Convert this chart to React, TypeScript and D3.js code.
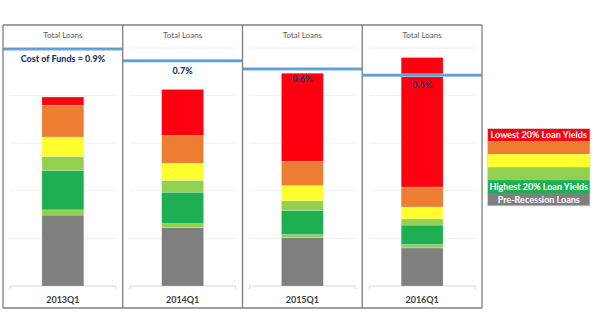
import React from "react";
import * as d3 from "d3";

const categories = ["2013Q1", "2014Q1", "2015Q1", "2016Q1"];
const preRecession = [1.49, 1.23, 1.02, 0.8];
const thinBand = [0.11, 0.08, 0.06, 0.07];
const highest20 = [0.83, 0.66, 0.51, 0.41];
const fourth20 = [0.29, 0.25, 0.2, 0.13];
const middle20 = [0.41, 0.36, 0.32, 0.25];
const second20 = [0.67, 0.58, 0.51, 0.42];
const lowest20 = [0.17, 0.97, 1.85, 2.72];
const costOfFundsLevel = [4.98, 4.73, 4.56, 4.43];
const costOfFundsLabels = ["Cost of Funds = 0.9%", "0.7%", "0.6%", "0.5%"];
const panelTitle = "Total Loans";
const yTicks = [0, 1, 2, 3, 4, 5];

const seriesKeys = ["pre", "thin", "high", "fourth", "middle", "second", "low"];
const seriesColors: Record<string, string> = {
  pre: "#7F7F7F",
  thin: "#92D050",
  high: "#1DAF52",
  fourth: "#92D050",
  middle: "#FFFF2E",
  second: "#ED7D31",
  low: "#FF0010",
};
const legendLabels = ["Lowest 20% Loan Yields", "", "", "", "Highest 20% Loan Yields", "Pre-Recession Loans"];
const legendColors = ["#FF0010", "#ED7D31", "#FFFF2E", "#92D050", "#1DAF52", "#7F7F7F"];

const rows = categories.map((c, i) => ({
  cat: c,
  pre: preRecession[i],
  thin: thinBand[i],
  high: highest20[i],
  fourth: fourth20[i],
  middle: middle20[i],
  second: second20[i],
  low: lowest20[i],
}));

export default function App() {
  const W = 600, H = 333;
  const x = d3.scaleBand<string>().domain(categories).range([3, 482]).paddingInner(0).paddingOuter(0);
  const y = d3.scaleLinear().domain([0, 5]).range([286, 48]);
  const stack = d3.stack<any>().keys(seriesKeys);
  const stacked = stack(rows as any);
  const bw = x.bandwidth();
  const barW = bw * 0.35;
  const top = 25, bottom = 308;
  const font = "Lato, 'Open Sans', sans-serif";

  const legendX = 487.5, legendW = 102.5, legendTop = 128.5, rowH = 12.9;

  return (
    <svg width={W} height={H} style={{ position: "absolute", left: 0, top: 0 }}>
      <rect x={0} y={0} width={W} height={H} fill="#fff" />
      {categories.map((c, i) => {
        const x0 = x(c)!;
        return (
          <g key={c}>
            {yTicks.map((t) => (
              <line key={t} x1={x0 + 7} x2={x0 + bw - 7} y1={y(t)} y2={y(t)}
                stroke={t === 0 ? "#D9D9D9" : "#F0F0F0"} strokeWidth={1} />
            ))}
            <line x1={x0 + 7} x2={x0 + 7} y1={y(0)} y2={y(0) + 3} stroke="#D9D9D9" />
            <line x1={x0 + bw - 7} x2={x0 + bw - 7} y1={y(0)} y2={y(0) + 3} stroke="#D9D9D9" />
            <text x={x0 + bw / 2} y={38} textAnchor="middle" fontFamily={font} fontSize={8} fill="#595959">{panelTitle}</text>
            <text x={x0 + bw / 2} y={302.5} textAnchor="middle" fontFamily={font} fontSize={9} fontWeight="bold" fill="#404040">{c}</text>
          </g>
        );
      })}
      {stacked.map((s) => (
        <g key={s.key}>
          {s.map((d, i) => {
            const cx = x(categories[i])! + bw / 2;
            return (
              <rect key={i} x={cx - barW / 2} y={y(d[1])} width={barW} height={y(d[0]) - y(d[1])}
                fill={seriesColors[s.key]} stroke="#ffffff" strokeOpacity={0.35} strokeWidth={0.6} />
            );
          })}
        </g>
      ))}
      {categories.map((c, i) => {
        const x0 = x(c)!;
        const ly = y(costOfFundsLevel[i]);
        return (
          <g key={"cof" + c}>
            <line x1={x0} x2={x0 + bw} y1={ly} y2={ly} stroke="#9DC3E6" strokeWidth={3.5} />
            <line x1={x0} x2={x0 + bw} y1={ly} y2={ly} stroke="#5B9BD5" strokeWidth={1.8} />
            <text x={x0 + bw / 2} y={ly + 13} textAnchor="middle" fontFamily={font} fontSize={9} fontWeight={900} fill="#1F3864">{costOfFundsLabels[i]}</text>
          </g>
        );
      })}
      {categories.map((c, i) => (
        <line key={"div" + i} x1={x(c)!} x2={x(c)!} y1={top} y2={bottom} stroke="#7F7F7F" strokeWidth={1.3} />
      ))}
      <line x1={482} x2={482} y1={top} y2={bottom} stroke="#7F7F7F" strokeWidth={1.3} />
      <line x1={3} x2={482} y1={top} y2={top} stroke="#7F7F7F" strokeWidth={1.3} />
      <line x1={3} x2={482} y1={bottom} y2={bottom} stroke="#7F7F7F" strokeWidth={1.3} />
      <g>
        {legendColors.map((col, i) => (
          <g key={"lg" + i}>
            <rect x={legendX} y={legendTop + i * rowH} width={legendW} height={rowH} fill={col} />
            {legendLabels[i] && (
              <text x={legendX + legendW / 2} y={legendTop + i * rowH + rowH / 2 + 3.2} textAnchor="middle"
                fontFamily={font} fontSize={9} fontWeight="bold" fill="#ffffff">{legendLabels[i]}</text>
            )}
          </g>
        ))}
        <rect x={legendX} y={legendTop} width={legendW} height={rowH * 6} fill="none" stroke="#D9D9D9" strokeWidth={0.8} />
      </g>
    </svg>
  );
}
